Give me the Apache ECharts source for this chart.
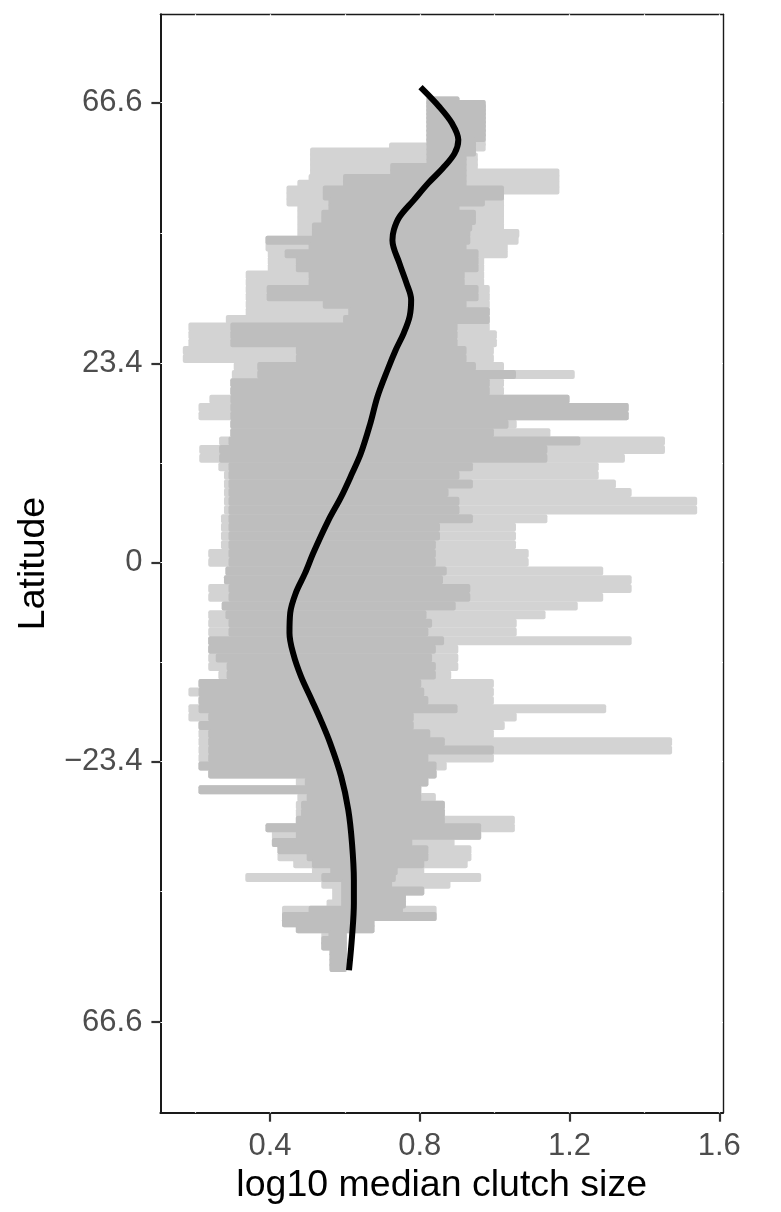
<!DOCTYPE html>
<html>
<head>
<meta charset="utf-8">
<script src="https://cdn.jsdelivr.net/npm/echarts@6/dist/echarts.min.js"></script>
<style>
html,body{margin:0;padding:0;background:#fff;}
#chart{width:781px;height:1212px;}
</style>
</head>
<body>
<div id="chart"></div>
<script>
// ---- data ----
const rowLat = [67,66,65,64,63,62,61,60,59,58,57,56,55,54,53,52,51,50,49,48,47,46,45,44,43,42,41,40,39,38,37,36,35,34,33,32,31,30,29,28,27,26,25,24,23,22,21,20,19,18,17,16,15,14,13,12,11,10,9,8,7,6,5,4,3,2,1,0,-1,-2,-3,-4,-5,-6,-7,-8,-9,-10,-11,-12,-13,-14,-15,-16,-17,-18,-19,-20,-21,-22,-23,-24,-25,-26,-27,-28,-29,-30,-31,-32,-33,-34,-35,-36,-37,-38,-39,-40,-41,-42,-43,-44,-45,-46,-47,-48,-49,-50,-51,-52,-53,-54];
const lightLo = [0.818,0.818,0.818,0.818,0.818,0.818,0.818,0.818,0.818,0.818,0.818,0.718,0.507,0.507,0.507,0.507,0.507,0.503,0.473,0.444,0.444,0.444,0.473,0.473,0.473,0.473,0.473,0.388,0.388,0.394,0.394,0.394,0.335,0.335,0.335,0.335,0.335,0.335,0.282,0.182,0.182,0.182,0.167,0.167,0.303,0.298,0.294,0.294,0.238,0.209,0.209,0.294,0.294,0.264,0.211,0.211,0.262,0.277,0.277,0.277,0.277,0.277,0.269,0.269,0.269,0.269,0.235,0.235,0.281,0.277,0.235,0.235,0.271,0.235,0.235,0.235,0.235,0.235,0.235,0.235,0.262,0.209,0.182,0.209,0.182,0.182,0.209,0.209,0.209,0.209,0.209,0.209,0.235,0.469,0.209,0.473,0.469,0.469,0.469,0.388,0.405,0.405,0.420,0.420,0.462,0.512,0.334,0.537,0.566,0.566,0.551,0.432,0.432,0.432,0.469,0.537,0.537,0.537,0.559,0.559,0.559,0.559];
const lightHi = [0.906,0.976,0.976,0.976,0.976,0.976,0.976,0.976,0.976,0.976,0.976,0.976,0.950,0.955,0.955,0.955,1.173,1.173,1.173,1.173,1.025,1.025,1.025,1.025,1.025,1.025,1.066,1.064,1.035,1.035,0.972,0.972,0.972,0.972,0.987,0.987,0.987,0.987,0.987,0.987,1.006,1.006,0.998,0.998,1.025,1.214,1.025,1.025,1.200,1.358,1.358,1.059,1.149,1.455,1.455,1.348,1.278,1.278,1.324,1.366,1.541,1.541,1.141,1.057,1.057,1.057,1.091,1.091,1.290,1.366,1.366,1.290,1.222,1.136,1.059,1.059,1.366,0.903,0.903,0.903,0.884,0.998,0.998,0.998,1.298,1.059,1.027,0.998,1.474,1.474,0.998,0.872,0.845,0.823,0.804,0.843,0.867,0.867,1.054,1.054,0.964,0.893,0.938,0.938,0.928,0.812,0.964,0.882,0.812,0.763,0.763,0.845,0.845,0.679,0.679,0.605,0.605,0.605,0.605,0.605,0.605,0.605];
const darkLo = [0.818,0.818,0.818,0.818,0.818,0.818,0.818,0.818,0.818,0.818,0.818,0.818,0.818,0.818,0.818,0.721,0.721,0.595,0.595,0.541,0.541,0.556,0.556,0.537,0.537,0.512,0.512,0.388,0.503,0.439,0.469,0.469,0.503,0.503,0.391,0.391,0.541,0.609,0.595,0.294,0.294,0.294,0.469,0.469,0.366,0.366,0.294,0.294,0.294,0.294,0.294,0.294,0.294,0.289,0.264,0.264,0.289,0.289,0.289,0.289,0.289,0.289,0.289,0.289,0.289,0.289,0.289,0.289,0.281,0.277,0.289,0.289,0.271,0.281,0.289,0.289,0.235,0.235,0.255,0.284,0.284,0.209,0.209,0.209,0.209,0.235,0.209,0.235,0.235,0.235,0.235,0.209,0.235,0.493,0.209,0.498,0.483,0.483,0.469,0.388,0.469,0.405,0.420,0.498,0.512,0.561,0.537,0.590,0.590,0.590,0.590,0.503,0.432,0.432,0.469,0.556,0.537,0.537,0.559,0.559,0.559,0.559];
const darkHi = [0.906,0.976,0.976,0.976,0.976,0.976,0.976,0.976,0.976,0.976,0.950,0.950,0.950,0.925,0.925,0.925,0.925,0.925,0.925,1.025,1.025,0.974,0.906,0.950,0.950,0.940,0.935,0.935,0.925,0.957,0.957,0.957,0.920,0.920,0.957,0.957,0.925,0.987,0.987,0.901,0.901,0.901,0.925,0.925,0.950,1.057,0.987,0.987,1.200,1.358,1.358,1.037,0.998,1.229,1.141,1.141,0.942,0.906,0.942,0.877,0.906,0.906,0.942,0.854,0.854,0.843,0.843,0.843,0.872,0.862,0.935,0.935,0.896,0.818,0.833,0.823,0.865,0.843,0.833,0.843,0.843,0.804,0.812,0.823,0.901,0.784,0.784,0.828,0.867,0.998,0.823,0.845,0.845,0.823,0.804,0.804,0.867,0.867,0.867,0.964,0.964,0.780,0.823,0.823,0.812,0.741,0.736,0.726,0.812,0.763,0.763,0.755,0.845,0.679,0.679,0.605,0.605,0.605,0.605,0.605,0.605,0.605];

const curveLat = [71.5,65.4,61.2,57.5,54.7,51.9,49.2,46.3,43.6,41.6,40.0,36.6,33.8,31.6,29.4,27.2,25.1,22.6,19.3,16.1,12.6,10.2,7.5,4.8,1.2,-1.3,-3.5,-5.8,-8.1,-10.5,-13.2,-16.0,-18.3,-21.2,-25.3,-29.6,-34.1,-39.4,-42.9,-48.4,-54.5];
const curveX = [0.802,0.852,0.886,0.903,0.893,0.862,0.823,0.784,0.746,0.731,0.727,0.746,0.765,0.777,0.773,0.757,0.736,0.714,0.687,0.668,0.643,0.619,0.590,0.556,0.517,0.493,0.469,0.454,0.452,0.462,0.483,0.512,0.535,0.561,0.590,0.609,0.619,0.624,0.624,0.619,0.611];

const xTicks = [0.4, 0.8, 1.2, 1.6];
const xTickLabels = ['0.4', '0.8', '1.2', '1.6'];
const xGridVals = [0.2, 0.4, 0.6, 0.8, 1.0, 1.2, 1.4, 1.6];
const yTickLats = [66.6, 23.4, 0, -23.4, -66.6];
const yTickLabels = ['66.6', '23.4', '0', '\u221223.4', '66.6'];

// ---- scales ----
const XMIN = 0.1072, XMAX = 1.610;
const YMIN = -1.0986, YMAX = 1.0938;
const sinLat = d => Math.sin(d * Math.PI / 180);
const yTickVals = yTickLats.map(sinLat);
const yGridVals = yTickVals.slice();
for (let i = 0; i < yTickVals.length - 1; i++) yGridVals.push((yTickVals[i] + yTickVals[i + 1]) / 2);

const FONT = '"Liberation Sans", Arial, sans-serif';
const BAR_H = 9;

function barItem(color) {
  return function (params, api) {
    const lat = api.value(0), lo = api.value(1), hi = api.value(2);
    const p0 = api.coord([lo, sinLat(lat)]);
    const p1 = api.coord([hi, sinLat(lat)]);
    return {
      type: 'rect',
      shape: { x: p0[0], y: p0[1] - BAR_H / 2, width: p1[0] - p0[0], height: BAR_H, r: 2 },
      style: { fill: color }
    };
  };
}

const lightData = rowLat.map((l, i) => [l, lightLo[i], lightHi[i]]);
const darkData = rowLat.map((l, i) => [l, darkLo[i], darkHi[i]]);
const curveData = curveLat.map((l, i) => [curveX[i], sinLat(l)]);

const chart = echarts.init(document.getElementById('chart'), null, { renderer: 'canvas' });
chart.setOption({
  backgroundColor: '#ffffff',
  animation: false,
  grid: { left: 160.4, right: 58, top: 14.3, bottom: 99.3, containLabel: false },
  xAxis: [
    {
      type: 'value', position: 'bottom', min: XMIN, max: XMAX, z: 0,
      name: 'log10 median clutch size', nameLocation: 'middle', nameGap: 52,
      nameTextStyle: { fontSize: 37.5, color: '#000000', fontFamily: FONT },
      axisLine: { show: true, onZero: false, lineStyle: { color: '#1a1a1a', width: 2 } },
      axisTick: { show: true, customValues: xTicks, length: 9, lineStyle: { color: '#333333', width: 2.2 } },
      axisLabel: {
        show: true, customValues: xTicks, margin: 18, fontSize: 31, color: '#4d4d4d', fontFamily: FONT,
        formatter: v => { const i = xTicks.findIndex(t => Math.abs(t - v) < 1e-9); return i >= 0 ? xTickLabels[i] : ''; }
      },
      splitLine: { show: false }
    },
    {
      type: 'value', position: 'top', min: XMIN, max: XMAX, z: 0,
      axisLine: { show: true, onZero: false, lineStyle: { color: '#1a1a1a', width: 1.4 } },
      axisTick: { show: false }, axisLabel: { show: false }, splitLine: { show: false }
    },
    {
      type: 'value', position: 'bottom', min: XMIN, max: XMAX, z: 1,
      axisLine: { show: false }, axisLabel: { show: false },
      axisTick: { show: false, customValues: xGridVals },
      splitLine: { show: true, lineStyle: { color: '#ffffff', width: 1.2 } }
    }
  ],
  yAxis: [
    {
      type: 'value', position: 'left', min: YMIN, max: YMAX, z: 0,
      name: 'Latitude', nameLocation: 'middle', nameGap: 108,
      nameTextStyle: { fontSize: 37.5, color: '#000000', fontFamily: FONT },
      axisLine: { show: true, onZero: false, lineStyle: { color: '#1a1a1a', width: 2 } },
      axisTick: { show: true, customValues: yTickVals, length: 9, lineStyle: { color: '#333333', width: 2.2 } },
      axisLabel: {
        show: true, customValues: yTickVals, margin: 18, fontSize: 31, color: '#4d4d4d', fontFamily: FONT,
        formatter: v => { const i = yTickVals.findIndex(t => Math.abs(t - v) < 1e-6); return i >= 0 ? yTickLabels[i] : ''; }
      },
      splitLine: { show: false }
    },
    {
      type: 'value', position: 'right', min: YMIN, max: YMAX, z: 0,
      axisLine: { show: true, onZero: false, lineStyle: { color: '#1a1a1a', width: 1.4 } },
      axisTick: { show: false }, axisLabel: { show: false }, splitLine: { show: false }
    },
    {
      type: 'value', position: 'left', min: YMIN, max: YMAX, z: 1,
      axisLine: { show: false }, axisLabel: { show: false },
      axisTick: { show: false, customValues: yGridVals },
      splitLine: { show: true, lineStyle: { color: '#ffffff', width: 1.2 } }
    }
  ],
  series: [
    { type: 'custom', name: 'range', xAxisIndex: 0, yAxisIndex: 0, z: 2, silent: true,
      renderItem: barItem('#d3d3d3'), encode: { x: [1, 2], y: 0 }, data: lightData },
    { type: 'custom', name: 'core', xAxisIndex: 0, yAxisIndex: 0, z: 3, silent: true,
      renderItem: barItem('#bebebe'), encode: { x: [1, 2], y: 0 }, data: darkData },
    { type: 'line', name: 'trend', xAxisIndex: 0, yAxisIndex: 0, z: 4, silent: true,
      data: curveData, smooth: 0.35, showSymbol: false, symbol: 'none',
      lineStyle: { color: '#000000', width: 6, cap: 'butt' } }
  ]
});
</script>
</body>
</html>
